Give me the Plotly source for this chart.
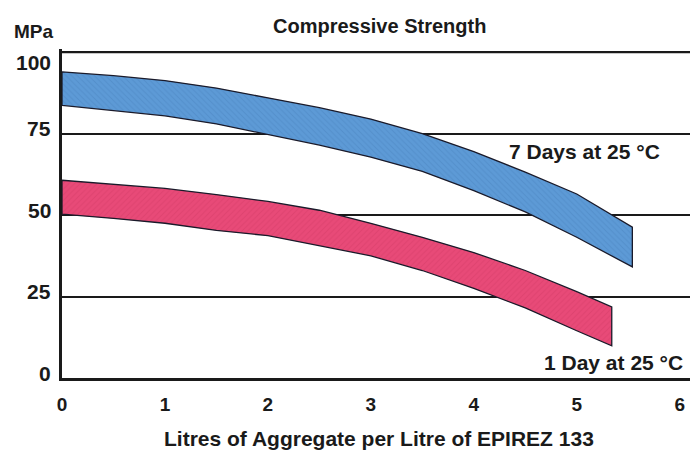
import plotly.graph_objects as go

# Data
x7 = [0, 0.5, 1, 1.5, 2, 2.5, 3, 3.5, 4, 4.5, 5, 5.54]
seven_day_high = [94.0, 92.8, 91.3, 89.0, 86.0, 83.0, 79.5, 75.0, 69.5, 63.2, 56.5, 46.3]
seven_day_low = [83.7, 82.2, 80.5, 78.0, 74.8, 71.5, 67.8, 63.4, 57.5, 51.0, 43.2, 34.1]

x1 = [0, 0.5, 1, 1.5, 2, 2.5, 3, 3.5, 4, 4.5, 5, 5.34]
one_day_high = [60.7, 59.5, 58.2, 56.3, 54.2, 51.5, 47.5, 43.2, 38.5, 33.0, 26.5, 21.8]
one_day_low = [50.3, 49.0, 47.5, 45.3, 43.7, 40.5, 37.5, 33.0, 27.5, 21.5, 14.5, 9.9]

x_ticks = [0, 1, 2, 3, 4, 5, 6]
y_ticks = [0, 25, 50, 75, 100]

FONT = "Liberation Sans, Arial, sans-serif"

def band(x, hi, lo, color, fg, shape):
    return go.Scatter(
        x=list(x) + list(x[::-1]) + [x[0]],
        y=list(hi) + list(lo[::-1]) + [hi[0]],
        mode="lines",
        fill="toself",
        fillcolor=color,
        fillpattern=dict(shape=shape, bgcolor=color, fgcolor=fg, size=4, solidity=0.25),
        line=dict(color="#1a1a2a", width=1.3),
        hoverinfo="skip",
        showlegend=False,
    )

fig = go.Figure()
fig.add_trace(band(x7, seven_day_high, seven_day_low, "#5d9ad6", "#4a84c0", "\\"))
fig.add_trace(band(x1, one_day_high, one_day_low, "#e84a78", "#d43a66", "/"))

annotations = [
    dict(text="<b>Compressive Strength</b>", xref="paper", yref="paper",
         x=0.505, y=1.0, yshift=23, showarrow=False, font=dict(size=20, family=FONT),
         xanchor="center", yanchor="middle"),
    dict(text="<b>MPa</b>", xref="paper", yref="paper", x=0, xshift=-50, y=1.0, yshift=18,
         showarrow=False, font=dict(size=19, family=FONT), xanchor="left", yanchor="middle"),
    dict(text="<b>7 Days at 25 °C</b>", x=5.83, y=69.6, showarrow=False,
         font=dict(size=21, family=FONT), xanchor="right", yanchor="middle"),
    dict(text="<b>1 Day at 25 °C</b>", x=6.05, y=4.9, showarrow=False,
         font=dict(size=21, family=FONT), xanchor="right", yanchor="middle"),
    dict(text="<b>Litres of Aggregate per Litre of EPIREZ 133</b>", xref="paper", yref="paper",
         x=0.505, y=0, yshift=-60, showarrow=False, font=dict(size=21, family=FONT),
         xanchor="center", yanchor="middle"),
]
# y tick labels (the top one sits below its line, the others just above)
for v in y_ticks:
    annotations.append(dict(
        text=f"<b>{v}</b>", xref="paper", yref="y", x=0, xshift=-9, y=v,
        yshift=(-10 if v == max(y_ticks) else 5), showarrow=False,
        font=dict(size=21, family=FONT), xanchor="right", yanchor="middle"))

fig.update_layout(
    width=690, height=450,
    margin=dict(l=62, r=0, t=49, b=72),
    paper_bgcolor="white", plot_bgcolor="white",
    font=dict(family=FONT, color="#1a1a1a"),
    showlegend=False,
    annotations=annotations,
)

# top border line at the highest tick
fig.add_hline(y=max(y_ticks), line=dict(color="#1a1a1a", width=1.8), layer="above")

fig.update_xaxes(
    range=[0, 6.1], tickvals=x_ticks, ticktext=[f"<b>{v}</b>" for v in x_ticks],
    showgrid=False, zeroline=False, showline=True, linecolor="#1a1a1a", linewidth=3,
    ticks="", tickfont=dict(size=19, family=FONT), ticklabelstandoff=7,
    ticklabeloverflow="allow", automargin=False,
)
fig.update_yaxes(
    range=[0, 101], tickvals=y_ticks, showticklabels=False,
    showgrid=True, gridcolor="#1a1a1a", gridwidth=1.5, zeroline=False,
    showline=True, linecolor="#1a1a1a", linewidth=3,
    ticks="", automargin=False,
)

# remove the default page margin so the 690x450 figure fills the window exactly
fig.write_html(
    "out.html",
    config=dict(displayModeBar=False),
    post_script="document.body.style.margin='0';document.body.style.overflow='hidden';",
)
